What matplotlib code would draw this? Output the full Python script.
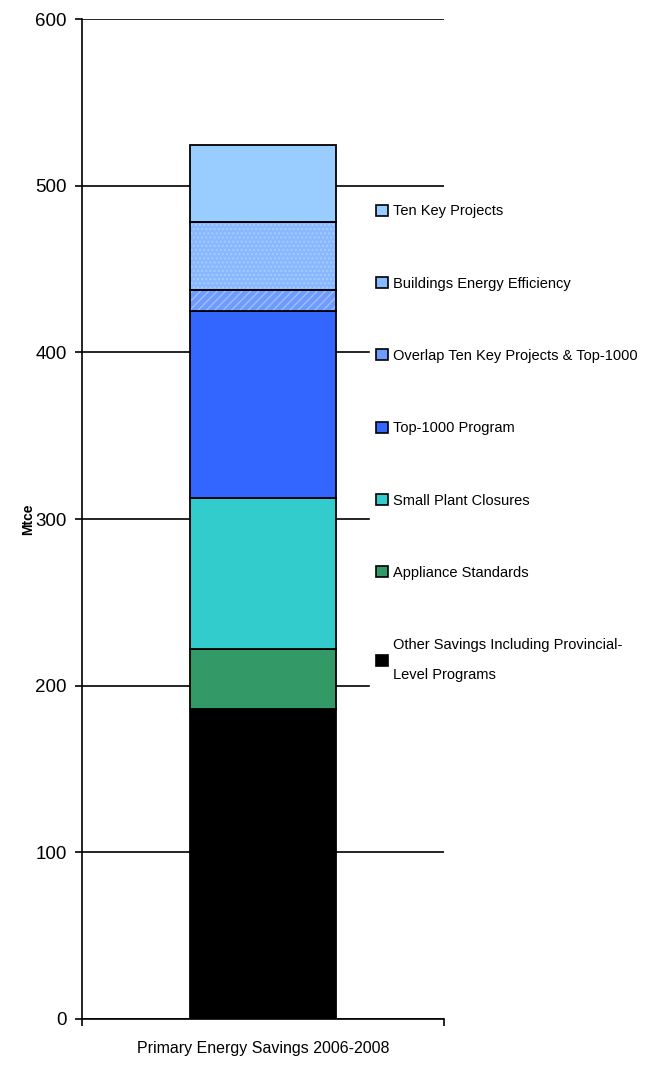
import numpy as np
import matplotlib.pyplot as plt
from matplotlib.patches import Patch

plt.rcParams['font.family'] = ['Liberation Sans', 'DejaVu Sans']

# segments, bottom to top (Mtce)
labels = ["Other Savings Including Provincial-\nLevel Programs",
          "Appliance Standards",
          "Small Plant Closures",
          "Top-1000 Program",
          "Overlap Ten Key Projects & Top-1000",
          "Buildings Energy Efficiency",
          "Ten Key Projects"]
values = [186, 36, 90.6, 112.2, 12.6, 40.8, 46.2]
colors = ["#000000", "#339966", "#33CCCC", "#3366FF", "#6F9BFF", "#88B8FF", "#99CCFF"]
hatches = [None, None, None, None, "////", "....", None]
hatch_cols = [None, None, None, None, "#9FC0FF", "#A8CCFF", None]
category = "Primary Energy Savings 2006-2008"

fig = plt.figure(figsize=(6.51, 10.67), dpi=100)
ax = fig.add_axes([0.126, 0.045, 0.556, 0.937])

bottom = 0
handles = []
for lab, v, c, h, hc in zip(labels, values, colors, hatches, hatch_cols):
    if h:
        ax.bar(0, v, bottom=bottom, width=0.403, color=c, hatch=h,
               edgecolor=hc, linewidth=0, zorder=3)
        ax.bar(0, v, bottom=bottom, width=0.403, fill=False,
               edgecolor="black", linewidth=1.3, zorder=4)
    else:
        ax.bar(0, v, bottom=bottom, width=0.403, color=c,
               edgecolor="black", linewidth=1.3, zorder=3)
    handles.append(Patch(facecolor=c, edgecolor="black", linewidth=1.2,
                         label=lab))
    bottom += v

ax.set_xlim(-0.5, 0.5)
ax.set_ylim(0, 600)
ax.set_yticks(np.arange(0, 601, 100))
ax.yaxis.grid(True, color="black", linewidth=1.2, zorder=0)
ax.set_axisbelow(True)
for s in ["top", "right"]:
    ax.spines[s].set_visible(False)
ax.spines["left"].set_linewidth(1.2)
ax.spines["bottom"].set_linewidth(1.2)
ax.tick_params(axis="y", labelsize=13.5, length=5, width=1.2, pad=6)
ax.set_xticks([0])
ax.set_xticklabels([category], fontsize=11.5)
ax.tick_params(axis="x", length=0, pad=16)
ax.set_xticks([-0.5, 0.5], minor=True)
ax.tick_params(axis="x", which="minor", length=5, width=1.2)
ax.set_ylabel("Mtce", fontsize=10, fontweight="bold")
ax.yaxis.set_label_coords(-0.13, 0.5)

leg = ax.legend(handles[::-1], [h.get_label() for h in handles[::-1]],
                loc="upper left", bbox_to_anchor=(0.776, 0.828),
                fontsize=10.5, frameon=True, facecolor="white", edgecolor="white",
                framealpha=1, fancybox=False, handlelength=0.8, handleheight=0.8,
                handletextpad=0.35, labelspacing=4.0, borderpad=0.4)
leg.get_texts()[-1].set_linespacing(2.4)
leg.set_zorder(5)

fig.savefig("out.png", dpi=100)
